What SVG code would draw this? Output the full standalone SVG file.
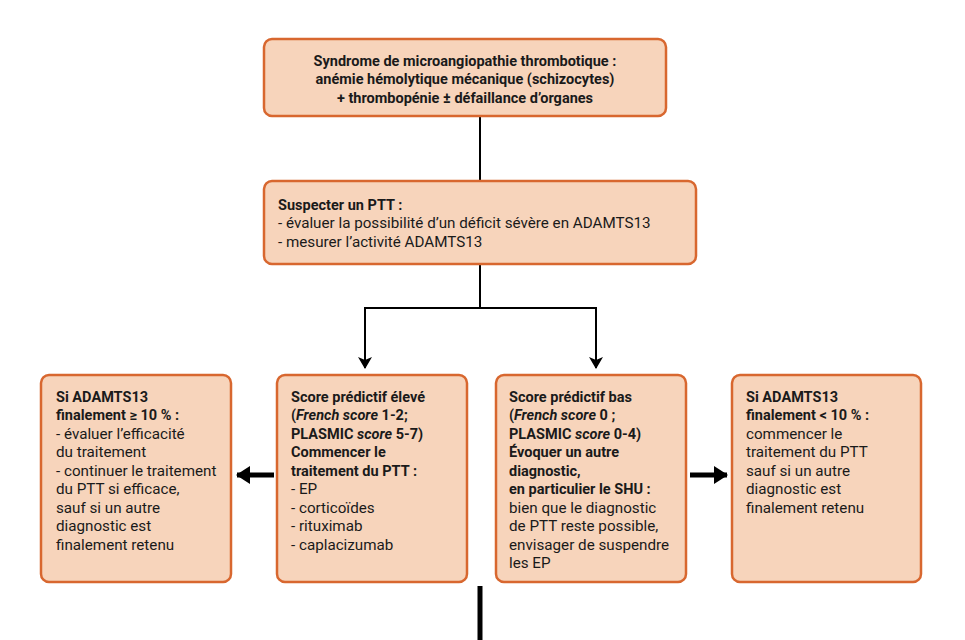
<svg xmlns="http://www.w3.org/2000/svg" width="965" height="640" viewBox="0 0 965 640">
<defs>
<style>
.box{fill:#f7d4bb;stroke:#d8672f;stroke-width:2.5}
text{font-family:Roboto,"Liberation Sans",sans-serif;font-size:15.2px;fill:#1a1a1a}
.b{font-weight:bold;font-size:14.5px}
.c{stroke:#000;stroke-width:2;fill:none}
.t{stroke:#000;stroke-width:5;fill:none}
</style>
<marker id="ah" markerWidth="12" markerHeight="14" refX="11" refY="7" orient="auto" markerUnits="userSpaceOnUse">
<path d="M0,0 L12,7 L0,14 L3,7 Z" fill="#000"/>
</marker>
<marker id="bh" markerWidth="14" markerHeight="18" refX="13" refY="9" orient="auto" markerUnits="userSpaceOnUse">
<path d="M0,0 L14,9 L0,18 Z" fill="#000"/>
</marker>
</defs>
<rect width="965" height="640" fill="#fff"/>
<g id="connectors">
<path class="c" d="M480,116 V180"/>
<path class="c" d="M480,264 V308 H365 V368" marker-end="url(#ah)"/>
<path class="c" d="M480,308 H596 V368" marker-end="url(#ah)"/>
<path class="t" d="M274,475 H237" marker-end="url(#bh)"/>
<path class="t" d="M690,475 H727" marker-end="url(#bh)"/>
<path class="t" d="M480,586 V640"/>
</g>
<g id="n1">
<rect class="box" x="264" y="39" width="402" height="77" rx="8"/>
<text class="b" text-anchor="middle"><tspan x="465" y="66">Syndrome de microangiopathie thrombotique :</tspan><tspan x="465" y="84">anémie hémolytique mécanique (schizocytes)</tspan><tspan x="465" y="103">+ thrombopénie ± défaillance d’organes</tspan></text>
</g>
<g id="n2">
<rect class="box" x="264" y="181" width="432" height="83" rx="8"/>
<text><tspan class="b" x="278" y="210">Suspecter un PTT :</tspan><tspan x="278" y="228">- évaluer la possibilité d’un déficit sévère en ADAMTS13</tspan><tspan x="278" y="247">- mesurer l’activité ADAMTS13</tspan></text>
</g>
<g id="n3">
<rect class="box" x="41" y="375" width="190" height="207" rx="8"/>
<text><tspan class="b" x="56" y="402">Si ADAMTS13</tspan><tspan class="b" x="56" y="420">finalement ≥ 10 % :</tspan><tspan x="56" y="439">- évaluer l’efficacité</tspan><tspan x="56" y="457">du traitement</tspan><tspan x="56" y="476">- continuer le traitement</tspan><tspan x="56" y="494">du PTT si efficace,</tspan><tspan x="56" y="513">sauf si un autre</tspan><tspan x="56" y="531">diagnostic est</tspan><tspan x="56" y="550">finalement retenu</tspan></text>
</g>
<g id="n4">
<rect class="box" x="277" y="375" width="190" height="207" rx="8"/>
<text><tspan class="b" x="291" y="402">Score prédictif élevé</tspan><tspan class="b" x="291" y="420">(<tspan font-style="italic">French score</tspan> 1-2;</tspan><tspan class="b" x="291" y="439">PLASMIC <tspan font-style="italic">score</tspan> 5-7)</tspan><tspan class="b" x="291" y="457">Commencer le</tspan><tspan class="b" x="291" y="476">traitement du PTT :</tspan><tspan x="291" y="494">- EP</tspan><tspan x="291" y="513">- corticoïdes</tspan><tspan x="291" y="531">- rituximab</tspan><tspan x="291" y="550">- caplacizumab</tspan></text>
</g>
<g id="n5">
<rect class="box" x="496" y="375" width="190" height="207" rx="8"/>
<text><tspan class="b" x="509" y="402">Score prédictif bas</tspan><tspan class="b" x="509" y="420">(<tspan font-style="italic">French score</tspan> 0 ;</tspan><tspan class="b" x="509" y="439">PLASMIC <tspan font-style="italic">score</tspan> 0-4)</tspan><tspan class="b" x="509" y="457">Évoquer un autre</tspan><tspan class="b" x="509" y="476">diagnostic,</tspan><tspan class="b" x="509" y="494">en particulier le SHU :</tspan><tspan x="509" y="513">bien que le diagnostic</tspan><tspan x="509" y="531">de PTT reste possible,</tspan><tspan x="509" y="550">envisager de suspendre</tspan><tspan x="509" y="568">les EP</tspan></text>
</g>
<g id="n6">
<rect class="box" x="732" y="375" width="189" height="207" rx="8"/>
<text><tspan class="b" x="746" y="402">Si ADAMTS13</tspan><tspan class="b" x="746" y="420">finalement &lt; 10 % :</tspan><tspan x="746" y="439">commencer le</tspan><tspan x="746" y="457">traitement du PTT</tspan><tspan x="746" y="476">sauf si un autre</tspan><tspan x="746" y="494">diagnostic est</tspan><tspan x="746" y="513">finalement retenu</tspan></text>
</g>
</svg>
